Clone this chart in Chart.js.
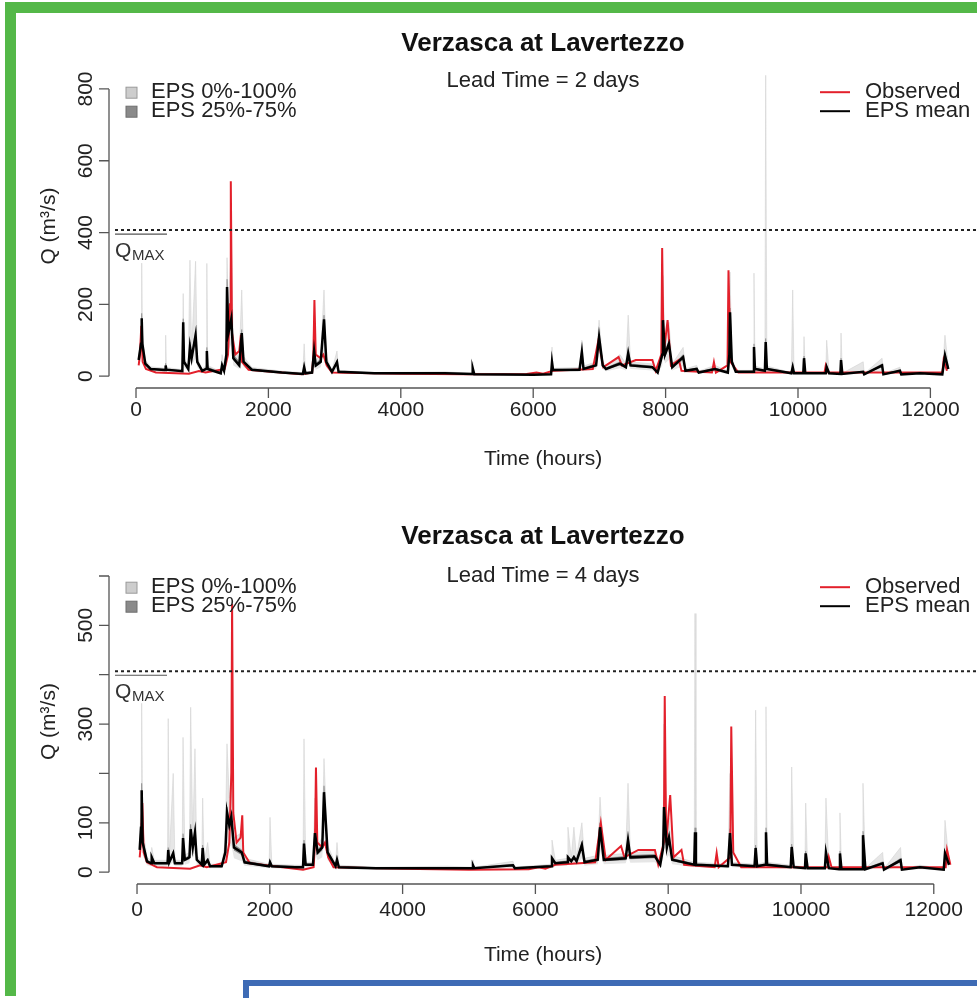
<!DOCTYPE html>
<html lang="en">
<head>
<meta charset="UTF-8">
<title>Verzasca at Lavertezzo</title>
<script src="https://cdn.jsdelivr.net/npm/chart.js@4"></script>
<style>
  html, body { margin: 0; padding: 0; background: #fff; }
  #page { position: relative; width: 977px; height: 998px; overflow: hidden; background: #fff; }
  canvas { position: absolute; left: 0; }
  #c1 { top: 0; }
  #c2 { top: 490px; }
  .g { position: absolute; background: #54b848; }
  .b { position: absolute; left: 243px; top: 980px; width: 760px; height: 40px; border: 6px solid #3e6bb5; background: #fff; }
</style>
</head>
<body>
<div id="page">
  <canvas id="c1" width="977" height="490"></canvas>
  <canvas id="c2" width="977" height="508"></canvas>
  <div class="g" style="left:5px;top:2px;width:972px;height:11px"></div>
  <div class="g" style="left:5px;top:2px;width:11px;height:994px"></div>
  <div class="b"></div>
</div>
<script>
const leadTimes = [2, 4];
const qMax = 407;
const xTickValues = [0, 2000, 4000, 6000, 8000, 10000, 12000];
const xTickLabels = ['0', '2000', '4000', '6000', '8000', '10000', '12000'];
const yTickValues1 = [0, 200, 400, 600, 800];
const yTickLabels1 = ['0', '200', '400', '600', '800'];
const yTickValues2 = [0, 100, 200, 300, 400, 500, 600];
const yTickLabels2 = ['0', '100', '', '300', '', '500', ''];
const bandLabels = ['EPS 0%-100%', 'EPS 25%-75%'];
const lineLabels = ['Observed', 'EPS mean'];

// observed discharge (same in both panels)
const obsHours = [40,60,80,100,150,300,800,950,1050,1340,1390,1420,1432,1450,1500,1560,1585,1600,1700,2500,
  2660,2680,2695,2715,2790,2830,2880,2960,4000,5000,5900,6050,6150,6300,6900,6985,7060,7290,7340,7550,
  7800,7850,7935,7948,7970,8030,8080,8200,8240,8700,8730,8760,8935,8950,8980,9100,10400,10420,10460,12180,
  12200,12250];
const obsValues = [30,60,140,40,20,10,7,14,10,20,60,200,543,120,60,70,115,40,18,5,
  10,60,212,60,50,60,30,10,7,5,6,10,7,15,20,100,25,53,30,45,
  45,15,60,357,60,156,30,45,15,10,39,10,30,295,40,10,10,30,10,10,
  45,15];

// lead time 2 days ensemble
const ens1Hours = [40,76,86,96,140,220,438,448,458,700,713,725,790,815,840,900,925,1000,1060,1070,
  1082,1280,1300,1330,1365,1375,1395,1440,1470,1560,1597,1625,1750,2200,2520,2540,2560,2660,2690,2715,
  2790,2840,2875,2960,3036,3060,3600,4668,5076,5086,5110,6000,6270,6284,6300,6700,6735,6760,6950,6995,
  7050,7100,7311,7400,7435,7470,7800,7880,7950,7960,7990,8050,8100,8265,8300,8470,8500,8746,8940,8963,
  8973,9000,9060,9322,9335,9350,9500,9512,9530,9900,9920,9940,10080,10091,10110,10420,10433,10470,10640,10650,
  10670,10985,11000,11270,11290,11540,11560,11843,12180,12220,12270];
const ens1Mean = [45,90,161,90,35,20,17,30,18,14,150,40,20,81,50,114,40,15,20,70,
  20,8,30,15,60,248,120,160,50,30,120,40,18,10,6,25,8,10,70,30,
  40,158,40,12,39,12,8,8,6,22,5,4,5,39,17,18,67,20,30,109,
  30,20,35,25,64,30,25,10,60,156,60,90,25,53,15,20,10,20,10,60,
  178,40,12,12,81,20,15,95,20,8,25,8,8,50,8,8,25,8,6,45,
  6,12,5,30,5,15,5,8,5,58,20];
const ens1Q25 = [40,80,140,80,30,18,15,25,16,12,130,35,18,70,45,100,35,13,18,60,
  18,7,25,13,50,215,105,140,45,25,100,35,16,9,5,20,7,9,55,25,
  35,135,35,10,33,10,7,7,5,18,4,3,4,33,15,16,58,18,26,95,
  26,18,30,22,55,26,22,9,50,135,52,78,22,45,13,17,9,17,9,50,
  155,35,10,10,70,17,13,82,17,7,21,7,7,43,7,7,21,7,5,38,
  5,10,4,25,4,12,4,7,4,50,17];
const ens1Q75 = [50,100,175,100,40,22,19,36,20,16,160,45,25,95,60,125,45,17,25,80,
  25,10,35,18,70,270,140,180,60,40,130,45,20,12,8,30,10,12,80,35,
  48,170,45,14,44,14,9,9,7,25,6,5,6,44,19,21,75,23,35,118,
  35,23,40,28,72,34,28,12,70,170,68,100,28,60,17,23,12,23,12,70,
  190,45,14,14,90,23,17,105,23,9,29,9,9,56,9,9,29,9,7,50,
  7,14,6,34,6,17,6,9,6,65,23];
const ens1Min = [35,60,100,60,25,14,12,18,12,9,60,25,12,40,30,50,25,10,12,30,
  12,5,15,10,30,120,70,90,30,20,60,25,12,6,4,12,5,6,30,18,
  25,70,25,8,20,8,5,5,4,10,3,2,3,20,12,12,35,14,20,60,
  20,14,22,16,35,20,16,6,30,80,35,45,16,28,10,12,6,12,6,30,
  90,25,8,8,40,12,10,45,12,5,14,5,5,25,5,5,14,5,4,22,
  4,7,3,15,3,8,3,5,3,30,12];
const ens1Max = [60,120,315,120,45,26,22,114,24,18,230,50,30,323,70,320,50,20,30,314,
  30,12,60,22,90,330,180,380,80,50,240,55,24,14,10,90,12,14,170,45,
  60,240,55,16,70,16,10,12,8,40,8,6,8,81,22,24,100,28,40,156,
  40,28,60,34,170,40,34,14,90,280,80,150,34,80,20,30,14,30,14,90,
  290,55,16,16,287,28,20,838,28,10,240,10,10,110,10,10,100,10,8,120,
  8,40,7,50,7,25,7,12,7,114,28];

// lead time 4 days ensemble
const ens2Hours = [40,60,70,85,150,211,221,260,460,470,485,545,570,680,693,720,790,808,840,873,
  900,975,989,1010,1064,1100,1275,1330,1355,1390,1420,1460,1577,1620,1990,2003,2030,2380,2500,2515,
  2540,2650,2680,2720,2790,2816,2870,2990,3012,3040,3600,4669,5050,5060,5080,5663,5690,6240,6250,6300,
  6480,6490,6540,6580,6620,6700,6740,6940,6973,7030,7360,7395,7430,7800,7880,7925,7937,7980,8012,8060,
  8392,8404,8418,8900,8931,8960,9300,9317,9340,9462,9473,9490,9845,9860,9890,10060,10071,10100,10360,10376,
  10420,10575,10587,10610,10920,10934,10970,11230,11250,11500,11520,11792,12150,12169,12230];
const ens2Mean = [45,90,166,60,22,18,30,18,18,45,20,38,18,18,69,25,30,87,50,80,
  25,15,49,15,24,12,12,40,121,95,112,50,40,20,12,20,12,10,10,58,
  15,15,79,40,50,162,40,12,25,10,8,8,8,14,8,14,8,12,28,18,
  20,30,22,30,22,55,20,25,91,25,28,65,30,32,15,50,132,50,70,25,
  15,81,15,12,79,15,12,49,12,15,81,15,10,51,10,8,38,8,8,40,
  8,6,38,6,6,75,6,18,5,24,5,10,5,38,15];
const ens2Q25 = [40,80,145,52,19,16,26,16,16,38,18,32,16,16,58,22,26,75,44,68,
  22,13,42,13,20,10,10,35,105,82,96,44,34,17,10,17,10,9,9,50,
  13,13,68,35,44,140,35,10,21,9,7,7,7,12,7,12,7,10,24,16,
  18,26,19,26,19,47,18,22,78,22,24,56,26,28,13,43,114,43,60,22,
  13,70,13,10,68,13,10,42,10,13,70,13,9,44,9,7,33,7,7,34,
  7,5,33,5,5,65,5,15,4,20,4,9,4,33,13];
const ens2Q75 = [50,100,180,68,25,20,34,20,20,50,23,43,20,20,78,28,34,97,56,90,
  28,17,55,17,28,14,14,46,132,105,124,56,45,23,14,24,14,12,12,65,
  17,17,88,45,56,175,45,14,29,12,9,9,9,16,9,16,9,14,32,20,
  23,34,25,34,25,62,23,28,100,28,32,72,34,36,17,56,145,56,78,28,
  17,90,17,14,88,17,14,55,14,17,90,17,12,57,12,9,43,9,9,45,
  9,7,43,7,7,83,7,21,6,28,6,12,6,43,17];
const ens2Min = [35,60,90,35,14,12,18,12,12,22,13,20,12,12,30,15,18,40,28,38,
  15,10,24,10,14,8,8,25,60,50,55,28,22,13,8,12,8,6,6,28,
  10,10,38,24,30,75,24,8,14,6,5,5,5,8,5,8,5,8,16,12,
  13,18,14,18,14,28,13,16,45,16,18,32,19,20,10,28,65,28,35,16,
  10,40,10,8,38,10,8,24,8,10,40,10,6,25,6,5,20,5,5,20,
  5,4,20,4,4,35,4,10,3,12,3,6,3,20,10];
const ens2Max = [60,140,342,90,30,24,50,24,24,311,28,200,24,24,273,35,40,334,70,250,
  35,20,150,20,60,16,16,60,260,150,200,70,80,28,16,111,16,14,14,270,
  20,20,150,55,70,230,55,16,60,14,10,12,10,25,10,22,10,16,65,24,
  28,91,30,91,30,100,28,34,152,34,38,180,40,42,20,80,300,70,110,34,
  20,524,20,16,200,20,16,328,16,20,335,20,14,213,14,10,140,10,10,150,
  10,8,120,8,8,180,8,40,7,50,7,14,7,105,20];

const FAMILY = '"Liberation Sans", Arial, Helvetica, sans-serif';
Chart.defaults.font.family = FAMILY;
Chart.defaults.color = '#222';

const pts = (xs, ys) => xs.map((h, i) => ({ x: h, y: ys[i] }));

// R-style axes, Q_MAX line, legends and lead time label
const rAxes = {
  id: 'rAxes',
  afterDraw(chart, args, o) {
    const { ctx, chartArea: a, scales: { x, y } } = chart;
    ctx.save();
    ctx.strokeStyle = '#555';
    ctx.lineWidth = 1.3;
    ctx.beginPath();
    ctx.moveTo(a.left, y.getPixelForValue(o.yTicks[0]));
    ctx.lineTo(a.left, y.getPixelForValue(o.yTicks[o.yTicks.length - 1]));
    o.yTicks.forEach(v => { const p = y.getPixelForValue(v); ctx.moveTo(a.left, p); ctx.lineTo(a.left - 10, p); });
    ctx.moveTo(x.getPixelForValue(xTickValues[0]), a.bottom);
    ctx.lineTo(x.getPixelForValue(xTickValues[xTickValues.length - 1]), a.bottom);
    xTickValues.forEach(v => { const p = x.getPixelForValue(v); ctx.moveTo(p, a.bottom); ctx.lineTo(p, a.bottom + 10); });
    ctx.stroke();

    // Q_MAX
    const yq = y.getPixelForValue(qMax);
    ctx.strokeStyle = '#222';
    ctx.lineWidth = 2;
    ctx.setLineDash([3, 3]);
    ctx.beginPath(); ctx.moveTo(a.left + 6, yq); ctx.lineTo(a.right, yq); ctx.stroke();
    ctx.setLineDash([]);
    ctx.lineWidth = 1.2; ctx.strokeStyle = '#555';
    ctx.beginPath(); ctx.moveTo(a.left + 6, yq + 4); ctx.lineTo(a.left + 58, yq + 4); ctx.stroke();
    ctx.fillStyle = '#333';
    ctx.textAlign = 'left'; ctx.textBaseline = 'alphabetic';
    ctx.font = '21px ' + FAMILY;
    ctx.fillText('Q', a.left + 6, yq + 27);
    ctx.font = '15px ' + FAMILY;
    ctx.fillText('MAX', a.left + 23, yq + 30);

    // lead time
    ctx.fillStyle = '#222';
    ctx.textAlign = 'center'; ctx.textBaseline = 'middle';
    ctx.font = '22px ' + FAMILY;
    ctx.fillText('Lead Time = ' + o.lead + ' days', (a.left + a.right) / 2, a.top + 17);

    // legends
    const rows = [a.top + 28, a.top + 47];
    const fills = ['#cdcdcd', '#8a8a8a'];
    const edges = ['#9a9a9a', '#6e6e6e'];
    ctx.textAlign = 'left';
    rows.forEach((r, i) => {
      ctx.fillStyle = fills[i]; ctx.strokeStyle = edges[i]; ctx.lineWidth = 1;
      ctx.fillRect(a.left + 17, r - 5, 11, 11);
      ctx.strokeRect(a.left + 17, r - 5, 11, 11);
      ctx.fillStyle = '#222';
      ctx.fillText(bandLabels[i], a.left + 42, r);
    });
    const lineCols = ['#e3202b', '#000'];
    rows.forEach((r, i) => {
      ctx.strokeStyle = lineCols[i]; ctx.lineWidth = 2;
      ctx.beginPath(); ctx.moveTo(a.right - 157, r); ctx.lineTo(a.right - 127, r); ctx.stroke();
      ctx.fillStyle = '#222';
      ctx.fillText(lineLabels[i], a.right - 112, r);
    });
    ctx.restore();
  }
};

function makeChart(p) {
  return new Chart(document.getElementById(p.id), {
    type: 'line',
    data: {
      datasets: [
        { label: 'EPS mean', data: pts(p.hours, p.mean), borderColor: '#000', borderWidth: 2.5, fill: false },
        { label: 'Observed', data: pts(obsHours, obsValues), borderColor: '#e3202b', borderWidth: 2, fill: false },
        { label: 'EPS 25%-75%', data: pts(p.hours, p.q75), borderColor: '#777', borderWidth: 0.5, backgroundColor: '#8a8a8a', fill: '+1' },
        { label: 'q25', data: pts(p.hours, p.q25), borderWidth: 0, fill: false },
        { label: 'EPS 0%-100%', data: pts(p.hours, p.max), borderColor: '#d2d2d2', borderWidth: 0.6, backgroundColor: '#e6e6e6', fill: '+1' },
        { label: 'min', data: pts(p.hours, p.min), borderWidth: 0, fill: false }
      ]
    },
    options: {
      responsive: false,
      animation: false,
      devicePixelRatio: 1,
      layout: { padding: 0 },
      elements: { point: { radius: 0 }, line: { tension: 0 } },
      plugins: {
        legend: { display: false },
        tooltip: { enabled: false },
        title: {
          display: true, text: 'Verzasca at Lavertezzo', fullSize: false, color: '#111',
          font: { size: 26, weight: 'bold' }, padding: p.titlePad
        },
        rAxes: { yTicks: p.yTicks, lead: p.lead }
      },
      scales: {
        x: {
          type: 'linear', min: p.xRange[0], max: p.xRange[1],
          grid: { display: false, drawTicks: false }, border: { display: false },
          afterBuildTicks: s => { s.ticks = xTickValues.map(v => ({ value: v })); },
          afterFit: s => { s.height = p.xHeight; },
          ticks: { autoSkip: false, maxRotation: 0, padding: p.xTickPad, font: { size: 21 }, callback: (v, i) => xTickLabels[i] },
          title: { display: true, text: 'Time (hours)', font: { size: 21 }, padding: { top: 0, bottom: p.xTitlePad } }
        },
        y: {
          type: 'linear', min: p.yRange[0], max: p.yRange[1],
          grid: { display: false, drawTicks: false }, border: { display: false },
          afterBuildTicks: s => { s.ticks = p.yTicks.map(v => ({ value: v })); },
          afterFit: s => { s.width = 109; },
          ticks: { autoSkip: false, minRotation: 90, maxRotation: 90, crossAlign: 'center', padding: 5, font: { size: 21 },
                   callback: (v, i) => p.yLabels[i] },
          title: { display: true, text: 'Q (m³/s)', font: { size: 21 }, padding: { top: 37, bottom: 0 } }
        }
      }
    },
    plugins: [rAxes]
  });
}

makeChart({ id: 'c1', lead: leadTimes[0], hours: ens1Hours, mean: ens1Mean, q25: ens1Q25, q75: ens1Q75, min: ens1Min, max: ens1Max,
  yTicks: yTickValues1, yLabels: yTickLabels1, xRange: [-408, 12704], yRange: [-33, 869],
  titlePad: { top: 28, bottom: 5 }, xHeight: 102, xTickPad: 10, xTitlePad: 18 });
makeChart({ id: 'c2', lead: leadTimes[1], hours: ens2Hours, mean: ens2Mean, q25: ens2Q25, q75: ens2Q75, min: ens2Min, max: ens2Max,
  yTicks: yTickValues2, yLabels: yTickLabels2, xRange: [-422, 12651], yRange: [-24, 634],
  titlePad: { top: 31, bottom: 7 }, xHeight: 114, xTickPad: 14, xTitlePad: 30 });
</script>
</body>
</html>
